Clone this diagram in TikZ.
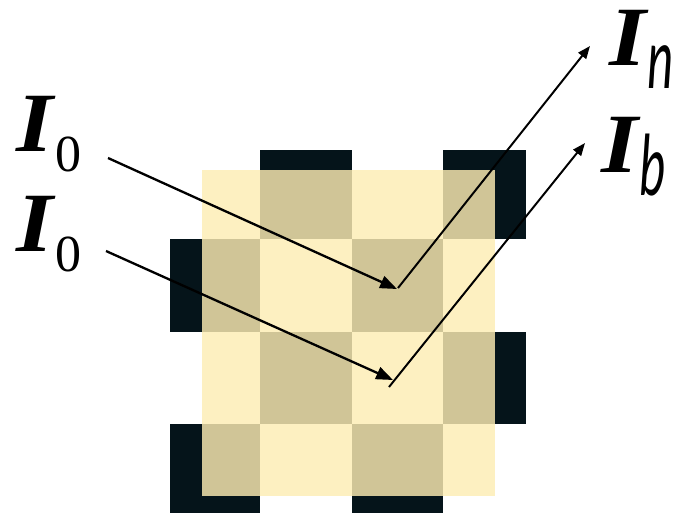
\documentclass[tikz,border=0pt]{standalone}
\usepackage{fontspec}
\usepackage{graphicx}
\usetikzlibrary{arrows.meta}
\newfontfamily\symfont{Liberation Serif}
\newfontfamily\subsansfont{Carlito}
\definecolor{boardblack}{RGB}{5,20,26}
\definecolor{filmyellow}{RGB}{253,237,179}
\newcommand{\bigI}{\scalebox{1.12}[1]{\symfont\bfseries\itshape\fontsize{60}{61}\selectfont I}}
\newcommand{\subnum}[1]{\kern2pt\raisebox{-14.5pt}{\symfont\fontsize{37}{38}\selectfont #1}}
\newcommand{\subital}[1]{\kern1pt\raisebox{-16.5pt}{\scalebox{1}[1.75]{\subsansfont\itshape\fontsize{36}{37}\selectfont #1}}}

\begin{document}
\begin{tikzpicture}[x=.025cm,y=-.025cm,
  square/.style={fill=boardblack,draw=none},
  film/.style={fill=filmyellow,fill opacity=.82,draw=none},
  tag/.style={anchor=base west,inner sep=0pt},
  ray/.style={draw=black,line width=1.65pt,-{Triangle[length=12pt,width=9pt]}},
  reflect/.style={draw=black,line width=1.4pt,-{Triangle[length=9pt,width=7pt]}}
]
 \path[use as bounding box] (0,0) rectangle (683,513);

 % checkerboard under the film
 \foreach \xa/\xb/\ya/\yb in {260/352/150/239,443/526/150/239,
   170/260/239/332,352/443/239/332,260/352/332/424,443/526/332/424,
   170/260/424/513,352/443/424/513}
   \fill[square] (\xa,\ya) rectangle (\xb,\yb);
 \fill[film] (202,170) rectangle (495,496);

 % labels
 \node[tag] (inTop) at (16,151) {\bigI\subnum{0}};
 \node[tag] (inBot) at (16,251) {\bigI\subnum{0}};
 \node[tag] (outN) at (609,65) {\bigI\subital{n}};
 \node[tag] (outB) at (601,172) {\bigI\subital{b}};

 % incident and reflected rays
 \coordinate (srcA) at (108,158);
 \coordinate (hitA) at (397,289);
 \coordinate (srcB) at (106,251);
 \coordinate (hitB) at (393,380);
 \coordinate (startN) at (398,288);
 \coordinate (tipN) at (590,46);
 \coordinate (startB) at (389,387);
 \coordinate (tipB) at (585,143);
 \draw[ray] (srcA) -- (hitA);
 \draw[ray] (srcB) -- (hitB);
 \draw[reflect] (startN) -- (tipN);
 \draw[reflect] (startB) -- (tipB);
\end{tikzpicture}
\end{document}
